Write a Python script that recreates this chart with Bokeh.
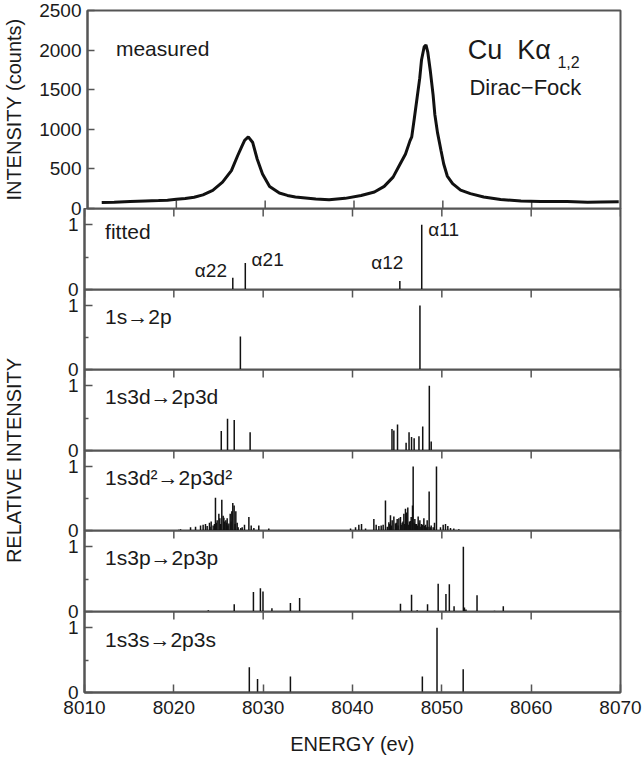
import math
from bokeh.plotting import figure
from bokeh.layouts import column, row
from bokeh.models import Range1d, FixedTicker, ColumnDataSource, Label
from bokeh.core.properties import value
from bokeh.embed import file_html
from bokeh.resources import INLINE

# ---------------- data ----------------
meas_e = [8011.6, 8013.0, 8014.8, 8016.5, 8018.0, 8019.0, 8020.0, 8021.0, 8022.0, 8023.0,
          8024.1, 8025.2, 8026.2, 8026.9, 8027.4, 8027.7, 8028.1, 8028.6, 8029.1, 8029.7,
          8030.5, 8031.6, 8032.5, 8033.4, 8035.7, 8037.2, 8039.0, 8040.8, 8042.3, 8043.4,
          8044.4, 8045.1, 8045.8, 8046.3, 8046.5, 8046.8, 8047.1, 8047.4, 8047.6, 8047.9,
          8048.1, 8048.3, 8048.6, 8048.9, 8049.1, 8049.4, 8049.8, 8050.1, 8050.5, 8051.1,
          8052.0, 8053.1, 8054.6, 8056.5, 8058.8, 8061.0, 8064.0, 8066.3, 8067.8, 8069.8]
meas_c = [76, 80, 88, 95, 100, 105, 116, 125, 142, 172,
          229, 333, 479, 666, 790, 862, 905, 833, 625, 437,
          279, 195, 165, 145, 120, 110, 128, 165, 208, 279,
          396, 542, 688, 854, 904, 1146, 1396, 1646, 1875, 2042,
          2065, 1979, 1729, 1438, 1188, 958, 729, 562, 410, 315,
          233, 188, 146, 113, 96, 88, 88, 80, 83, 86]

fit_e = [8026.6, 8028.0, 8045.3, 8047.75]
fit_h = [0.18, 0.41, 0.13, 1.0]
fit_names = ["α22", "α21", "α12", "α11"]
fit_name_e = [8024.15, 8030.5, 8043.9, 8050.2]
fit_name_h = [0.30, 0.46, 0.41, 0.93]

p2_e = [8027.45, 8047.55]
p2_h = [0.515, 1.0]

d1_e = [8025.31, 8026.01, 8026.76, 8028.54,
        8044.42, 8044.63, 8045.04, 8046.00, 8046.33, 8046.61, 8046.90, 8047.44, 8047.86, 8048.60, 8048.81]
d1_h = [0.30, 0.49, 0.47, 0.28,
        0.33, 0.31, 0.40, 0.12, 0.28, 0.21, 0.19, 0.22, 0.37, 1.0, 0.14]

d2_e = [8020.55, 8020.75, 8021.87, 8022.43, 8022.99, 8023.28, 8023.54, 8023.73, 8023.99, 8024.05, 8024.18,
        8024.40, 8024.55, 8024.66, 8024.75, 8024.85, 8025.04, 8025.15, 8025.25, 8025.37, 8025.52,
        8025.60, 8025.67, 8025.82, 8025.90, 8025.97, 8026.05, 8026.16, 8026.31, 8026.40, 8026.49,
        8026.60, 8026.75, 8026.85, 8026.94, 8027.09, 8027.20, 8027.50, 8027.65, 8027.91, 8028.40,
        8028.66, 8028.96, 8029.51, 8030.63,
        8039.78, 8040.34, 8040.71, 8041.01, 8041.46, 8042.39, 8042.65, 8042.95, 8043.21, 8043.43,
        8043.69, 8043.90, 8044.07, 8044.15, 8044.25, 8044.35, 8044.44, 8044.63, 8044.81, 8044.90,
        8045.00, 8045.10, 8045.19, 8045.37, 8045.45, 8045.56, 8045.65, 8045.75, 8045.85, 8045.93,
        8046.04, 8046.10, 8046.19, 8046.30, 8046.38, 8046.50, 8046.57, 8046.72, 8046.79, 8046.90,
        8046.98, 8047.05, 8047.16, 8047.25, 8047.35, 8047.45, 8047.54, 8047.65, 8047.72, 8047.85,
        8047.99, 8048.05, 8048.17, 8048.25, 8048.36, 8048.45, 8048.58, 8048.70, 8048.81, 8049.03,
        8049.18, 8049.40, 8049.85, 8050.15, 8050.41, 8050.67, 8050.97, 8051.34, 8051.90]
d2_h = [0.01, 0.02, 0.05, 0.06, 0.08, 0.09, 0.10, 0.07, 0.12, 0.06, 0.14,
        0.08, 0.10, 0.51, 0.12, 0.16, 0.26, 0.19, 0.10, 0.48, 0.23,
        0.20, 0.14, 0.16, 0.12, 0.19, 0.08, 0.11, 0.26, 0.14, 0.30,
        0.43, 0.39, 0.10, 0.30, 0.12, 0.05, 0.04, 0.05, 0.09, 0.21,
        0.08, 0.04, 0.08, 0.03,
        0.03, 0.05, 0.09, 0.10, 0.03, 0.18, 0.09, 0.07, 0.08, 0.09,
        0.47, 0.06, 0.13, 0.10, 0.24, 0.08, 0.16, 0.22, 0.11, 0.12,
        0.18, 0.08, 0.19, 0.21, 0.09, 0.12, 0.14, 0.26, 0.10, 0.34,
        0.28, 0.12, 0.36, 0.09, 0.14, 0.15, 0.21, 0.39, 1.0, 0.12,
        0.18, 0.10, 0.10, 0.08, 0.22, 0.12, 0.16, 0.06, 0.10, 0.09,
        0.19, 0.07, 0.09, 0.05, 0.16, 0.06, 0.61, 0.05, 0.08, 0.05,
        0.12, 1.0, 0.05, 0.09, 0.10, 0.07, 0.04, 0.03, 0.02]

p3_e = [8023.86, 8026.76, 8028.91, 8029.69, 8029.98, 8030.98, 8033.05, 8034.08,
        8045.37, 8046.61, 8047.24, 8048.40, 8049.59, 8050.46, 8050.84, 8051.37, 8052.41,
        8052.53, 8052.70, 8053.94, 8055.90, 8056.88]
p3_h = [0.02, 0.11, 0.30, 0.36, 0.31, 0.05, 0.13, 0.21,
        0.12, 0.26, 0.02, 0.11, 0.43, 0.27, 0.42, 0.08, 1.0,
        0.06, 0.03, 0.25, 0.01, 0.08]

s3_e = [8028.45, 8029.37, 8033.05, 8047.82, 8049.46, 8052.39]
s3_h = [0.39, 0.21, 0.245, 0.245, 1.0, 0.36]

panel_names = ["fitted", "1s→2p", "1s3d→2p3d", "1s3d²→2p3d²", "1s3p→2p3p", "1s3s→2p3s"]
panel_name_h = [0.90, 0.83, 0.83, 0.83, 0.84, 0.82]
stick_e = [fit_e, p2_e, d1_e, d2_e, p3_e, s3_e]
stick_h = [fit_h, p2_h, d1_h, d2_h, p3_h, s3_h]

x_ticks = [8010, 8020, 8030, 8040, 8050, 8060, 8070]
top_ticks = [0, 500, 1000, 1500, 2000, 2500]
rel_ticks = [0, 1]
rel_minor = [0.5]

# ---------------- style / layout constants ----------------
FONT = "Liberation Sans"
TXT = "#1a1a1a"
FRAME = "#555555"
STICK = "#111111"
LB = 84            # left border: frame starts at page x = 84
FW = 536           # frame width
RB = 23
W = LB + FW + RB
LW = 36            # width of the strip holding the shared y label
OV = 12            # overlap so that boundary labels are not cut
TB = 10            # top border of the first panel
TOP_H = 198
STICK_H = [81, 80, 81, 80, 81, 81]
BB = 74            # bottom border of the last panel

xr = Range1d(8010, 8070)


def base_style(p):
    p.outline_line_color = FRAME
    p.outline_line_width = 2
    p.background_fill_color = None
    p.border_fill_color = None
    p.xgrid.visible = False
    p.ygrid.visible = False
    for ax in p.axis:
        ax.axis_line_color = FRAME
        ax.axis_line_width = 2
        ax.major_tick_line_color = FRAME
        ax.major_tick_line_width = 1.5
        ax.minor_tick_line_color = FRAME
        ax.minor_tick_line_width = 1.5
        ax.major_label_text_font = FONT
        ax.major_label_text_font_size = "19px"
        ax.major_label_text_color = TXT
        ax.axis_label_text_font = FONT
        ax.axis_label_text_font_style = "normal"
        ax.axis_label_text_color = TXT
        ax.axis_label_text_font_size = "20px"


def edge_ticks(p, y_edge):
    # short tick marks at the x tick positions along a panel edge
    p.scatter(x=x_ticks, y=[y_edge] * len(x_ticks), marker="dash", size=16,
              angle=math.pi / 2, line_color=FRAME, line_width=1.5)


# ---------------- top panel (measured) ----------------
top_range = Range1d(0, 2500)
top = figure(width=W, height=TB + TOP_H + OV, x_range=xr, y_range=top_range,
             x_axis_location=None,
             output_backend="svg", toolbar_location=None,
             min_border_left=LB, min_border_right=RB, min_border_top=TB, min_border_bottom=OV,
             margin=(0, 0, -OV, 0))
base_style(top)
top.yaxis.ticker = FixedTicker(ticks=top_ticks)
top.yaxis.major_tick_in = 7
top.yaxis.major_tick_out = 0
top.yaxis.minor_tick_in = 0
top.yaxis.minor_tick_out = 0
top.yaxis.major_label_standoff = 6
top.yaxis.axis_label = "INTENSITY (counts)"
top.yaxis.axis_label_standoff = 11
edge_ticks(top, top_range.start)

top.line(meas_e, meas_c, line_color=STICK, line_width=3)
top.add_layout(Label(x=8013.2, y=2025, text="measured", text_font=FONT, text_font_size="21px",
                     text_color=TXT, text_baseline="middle"))
top.add_layout(Label(x=8052.8, y=2004, text="Cu\u00a0\u00a0Kα", text_font=FONT, text_font_size="27px",
                     text_color=TXT, text_baseline="middle"))
top.add_layout(Label(x=8062.9, y=1850, text="1,2", text_font=FONT, text_font_size="16px",
                     text_color=TXT, text_baseline="middle"))
top.add_layout(Label(x=8053.0, y=1529, text="Dirac−Fock", text_font=FONT, text_font_size="22px",
                     text_color=TXT, text_baseline="middle"))

# ---------------- stick panels ----------------
SW = W - LW
SLB = LB - LW
sticks = []
n = len(stick_e)
for i in range(n):
    last = (i == n - 1)
    bb = BB if last else OV
    yr = Range1d(0, 1.25)
    p = figure(width=SW, height=STICK_H[i] + bb, x_range=xr, y_range=yr,
               x_axis_location="below" if last else None,
               output_backend="svg", toolbar_location=None,
               min_border_left=SLB, min_border_right=RB, min_border_top=0, min_border_bottom=bb,
               margin=(0, 0, 0 if last else -OV, 0))
    base_style(p)
    if last:
        p.xaxis.ticker = FixedTicker(ticks=x_ticks)
        p.xaxis.minor_tick_in = 0
        p.xaxis.minor_tick_out = 0
        p.xaxis.major_tick_in = 8
        p.xaxis.major_tick_out = 0
        p.xaxis.major_label_standoff = 8
        p.xaxis.axis_label = "ENERGY (ev)"
        p.xaxis.axis_label_standoff = 16
    p.yaxis.ticker = FixedTicker(ticks=rel_ticks, minor_ticks=rel_minor)
    p.yaxis.major_tick_in = 8
    p.yaxis.major_tick_out = 0
    p.yaxis.minor_tick_in = 4
    p.yaxis.minor_tick_out = 0
    p.yaxis.major_label_standoff = 6
    edge_ticks(p, yr.end)

    src = ColumnDataSource(dict(e=stick_e[i], h=stick_h[i]))
    p.segment(x0="e", y0=0, x1="e", y1="h", source=src, line_color=STICK, line_width=1.5)
    p.add_layout(Label(x=8012.3, y=panel_name_h[i], text=panel_names[i], text_font=FONT,
                       text_font_size="21px", text_color=TXT, text_baseline="middle"))
    if i == 0:
        lsrc = ColumnDataSource(dict(e=fit_name_e, h=fit_name_h, t=fit_names))
        p.text(x="e", y="h", text="t", source=lsrc, text_font=value(FONT), text_font_size="19px",
               text_color=TXT, text_align="center", text_baseline="middle")
    sticks.append(p)

col_h = sum(STICK_H) + BB
lab = figure(width=LW, height=col_h, x_range=Range1d(0, 1), y_range=Range1d(0, 1),
             x_axis_type=None, y_axis_type=None, output_backend="svg", toolbar_location=None,
             min_border=0)
lab.outline_line_color = None
lab.background_fill_color = None
lab.border_fill_color = None
lab.add_layout(Label(x=13 / LW, y=1 - 252 / col_h, text="RELATIVE INTENSITY", angle=math.pi / 2,
                     text_font=FONT, text_font_size="20px", text_color=TXT,
                     text_align="center", text_baseline="middle"))

layout = column(top, row(lab, column(*sticks, spacing=0), spacing=0), spacing=0)

open("out.html", "w").write(file_html(layout, INLINE))
